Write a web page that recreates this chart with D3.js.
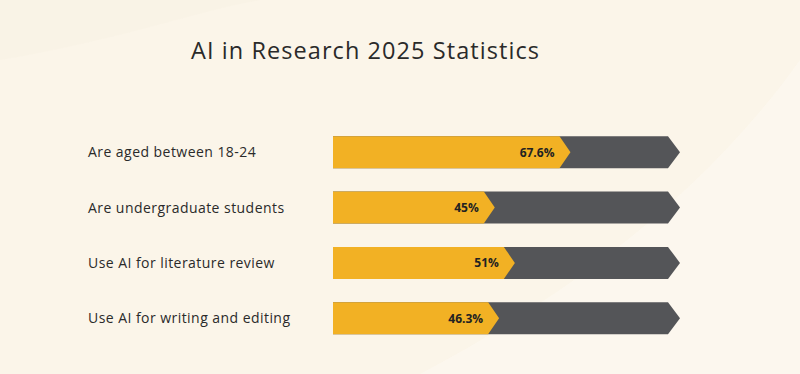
<!DOCTYPE html>
<html><head><meta charset="utf-8">
<script src="https://cdn.jsdelivr.net/npm/d3@7"></script>
<style>html,body{margin:0;padding:0;background:#fbf5e9;}svg{display:block;}</style>
</head><body>
<script>
const title = "AI in Research 2025 Statistics";
const categories = ["Are aged between 18-24","Are undergraduate students","Use AI for literature review","Use AI for writing and editing"];
const values = [67.6, 45, 51, 46.3];
const valueLabels = ["67.6%","45%","51%","46.3%"];

const W = 800, H = 374;
const svg = d3.select("body").append("svg").attr("width", W).attr("height", H);
svg.append("rect").attr("width", W).attr("height", H).attr("fill", "#fbf5e9");
svg.append("path").attr("d","M420,374 C560,300 700,200 800,60 L800,374 Z").attr("fill","#fcf8ef").attr("opacity",0.8);
svg.append("path").attr("d","M0,60 C120,40 200,10 260,0 L0,0 Z").attr("fill","#f9f2e4").attr("opacity",0.6);

const font = "'Open Sans', sans-serif";
svg.append("text").attr("x", 191).attr("y", 58.5).text(title)
  .attr("font-family", font).attr("font-size", 23.5).attr("fill", "#2a2a2a")
  .attr("textLength", 348).attr("lengthAdjust", "spacing");

const y = d3.scaleBand().domain(categories).range([124.5, 346]).paddingInner(0.42).paddingOuter(0.21);
const x = d3.scaleLinear().domain([0, 100]).range([333, 668]);
const tip = 12, ytip = 11;

const rows = svg.append("g").selectAll("g.row").data(categories).join("g").attr("class","row");

rows.append("text").attr("class","lab").attr("x", 88).attr("y", d => y(d) + y.bandwidth()/2 + 5)
  .text(d => d).attr("font-family", font).attr("font-size", 14).attr("letter-spacing", 0.45).attr("fill", "#2a2a2a");

rows.append("path").attr("fill", "#545558").attr("d", d => {
  const t = y(d), b = t + y.bandwidth(), m = t + y.bandwidth()/2;
  return `M${x(0)},${t}L${x(100)},${t}L${x(100)+tip},${m}L${x(100)},${b}L${x(0)},${b}Z`;
});
rows.append("path").attr("fill", "#f2b124").attr("d", (d,i) => {
  const t = y(d), b = t + y.bandwidth(), m = t + y.bandwidth()/2, xv = x(values[i]);
  return `M${x(0)},${t}L${xv},${t}L${xv+ytip},${m}L${xv},${b}L${x(0)},${b}Z`;
});
rows.append("text").attr("class","val").attr("x", (d,i) => x(values[i]) - 5).attr("y", d => y(d) + y.bandwidth()/2 + 4.5)
  .attr("text-anchor","end").text((d,i) => valueLabels[i])
  .attr("font-family", font).attr("font-weight", 700).attr("font-size", 12).attr("fill", "#222");
</script>
</body></html>
